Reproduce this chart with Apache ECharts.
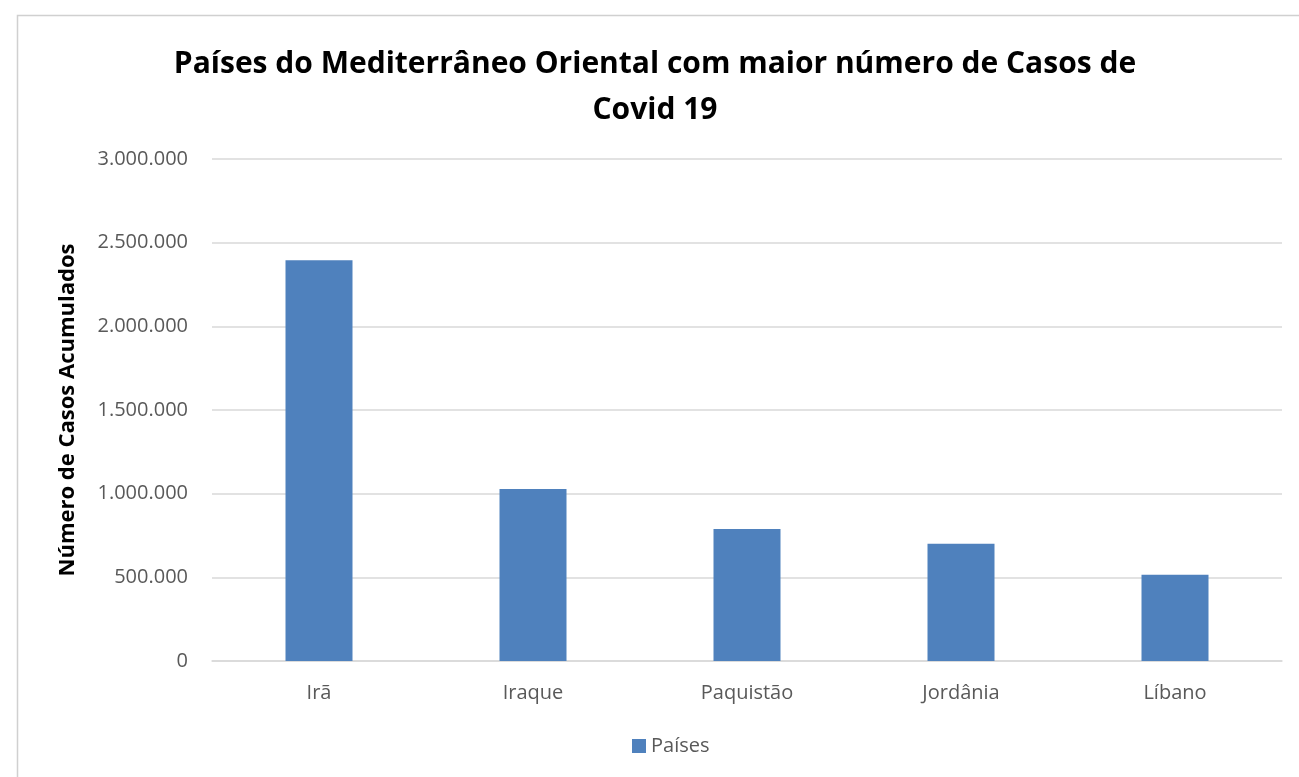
<!DOCTYPE html>
<html>
<head>
<meta charset="utf-8">
<script src="https://cdn.jsdelivr.net/npm/echarts@6/dist/echarts.min.js"></script>
<style>
html,body{margin:0;padding:0;background:#fff}
#grafico{width:1299px;height:777px}
</style>
</head>
<body>
<div id="grafico"></div>
<script>
// paises e casos acumulados
var paises = ['Irã', 'Iraque', 'Paquistão', 'Jordânia', 'Líbano'];
var casos = [2395000, 1028000, 789000, 700000, 516000];
var nomeSerie = 'Países';
var titulo = 'Países do Mediterrâneo Oriental com maior número de Casos de\nCovid 19';

function milhar(v)
{
    return String(v).replace(/\B(?=(\d{3})+(?!\d))/g, '.');
}

var myChart = echarts.init(document.getElementById('grafico'));
option = {
    animation: false,
    title: {
        text: titulo,
        left: 650,
        textAlign: 'center',
        top: 36,
        textStyle: {
            fontFamily: 'Open Sans',
            fontWeight: 'bold',
            fontSize: 30,
            lineHeight: 46,
            color: '#000'
        }
    },
    graphic: [{
        type: 'rect',
        shape: {x: 17.5, y: 15.5, width: 1400, height: 900},
        style: {fill: 'none', stroke: '#d0d0d0', lineWidth: 1.5},
        silent: true
    }],
    legend: {
        data: [nomeSerie],
        bottom: 16,
        left: 627,
        itemWidth: 14,
        itemHeight: 14,
        itemGap: 5,
        icon: 'rect',
        textStyle: {fontFamily: 'Open Sans', fontSize: 20, color: '#595959'}
    },
    grid: {left: 212, right: 17, top: 159, bottom: 116},
    xAxis: {
        type: 'category',
        data: paises,
        axisLine: {lineStyle: {color: '#d9d9d9', width: 1.5}},
        axisTick: {show: false},
        axisLabel: {fontFamily: 'Open Sans', fontSize: 20, color: '#595959', margin: 22}
    },
    yAxis: {
        type: 'value',
        min: 0,
        max: 3000000,
        interval: 500000,
        name: 'Número de Casos Acumulados',
        nameLocation: 'middle',
        nameGap: 133,
        nameTextStyle: {fontFamily: 'Open Sans', fontWeight: 'bold', fontSize: 22, color: '#000'},
        axisLine: {show: false},
        axisTick: {show: false},
        splitLine: {lineStyle: {color: '#d9d9d9', width: 1.5}},
        axisLabel: {
            fontFamily: 'Open Sans', fontSize: 20, color: '#595959', margin: 24,
            formatter: function (v) { return milhar(v); }
        }
    },
    series: [{
        name: nomeSerie,
        type: 'bar',
        barWidth: 67,
        itemStyle: {color: '#4f81bd'},
        data: casos
    }]
};
myChart.setOption(option);
</script>
</body>
</html>
